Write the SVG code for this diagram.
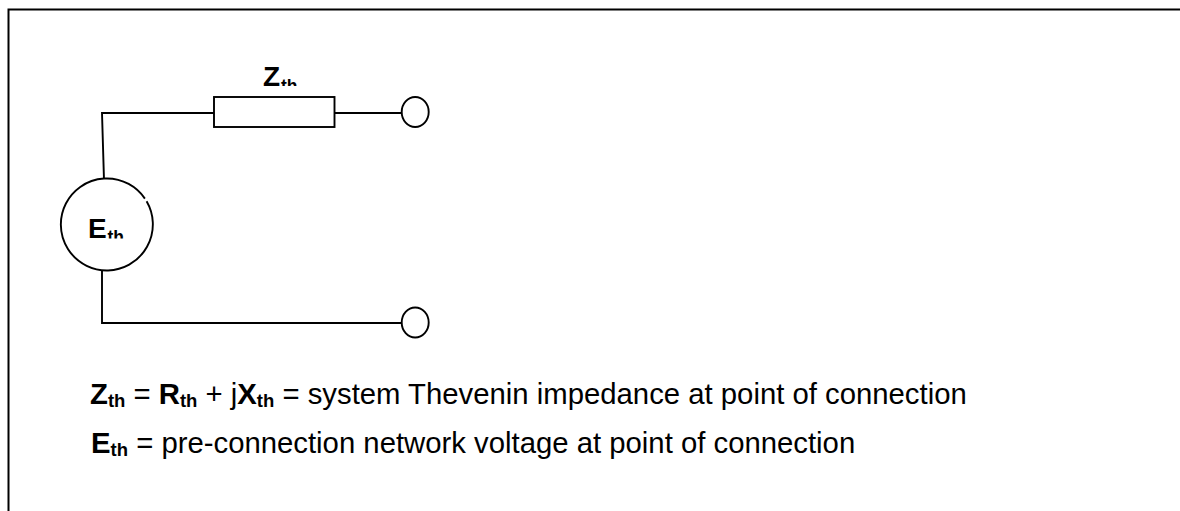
<svg xmlns="http://www.w3.org/2000/svg" width="1180" height="511" viewBox="0 0 1180 511">
<style>
.w{fill:#fff;stroke:#000;stroke-width:1.9}
.c{fill:none;stroke:#000;stroke-width:1.9}
text{font-family:"Liberation Sans",Arial,sans-serif;fill:#000}
.b{font-weight:bold}
.l{font-size:29.300px}
.s{font-weight:bold;font-size:18.500px}
.n{font-weight:bold;font-size:28px}
.t{font-weight:bold;font-size:17.500px}
</style>
<defs>
<clipPath id="cz"><rect x="255" y="60" width="50" height="26"/></clipPath>
<clipPath id="ce"><rect x="80" y="210" width="50" height="28.500"/></clipPath>
</defs>
<rect width="1180" height="511" fill="#fff"/>
<path id="frame" d="M1180 9.500H8.500V511" fill="none" stroke="#000" stroke-width="2"/>
<g id="connectors">
<path class="c" d="M214 113H102L104 180"/>
<path class="c" d="M334 113H402"/>
<path class="c" d="M102 269V323H402"/>
</g>
<g id="Zth">
<rect class="w" x="214" y="97" width="120.500" height="30"/>
<text clip-path="url(#cz)"><tspan class="n" x="263" y="86">Z</tspan><tspan class="t" x="281" y="92">th</tspan></text>
</g>
<g id="Eth">
<path class="w" d="M146.600 201.300A46 46 0 1 1 144.900 198.600"/>
<text clip-path="url(#ce)"><tspan class="n" x="88" y="238">E</tspan><tspan class="t" x="107.500" y="243">th</tspan></text>
</g>
<g id="t1"><ellipse class="w" cx="415.200" cy="112" rx="13.500" ry="15"/></g>
<g id="t2"><ellipse class="w" cx="415.200" cy="322.500" rx="13.500" ry="15"/></g>
<g id="legend">
<text class="l" y="403.500"><tspan class="b" x="90">Z</tspan><tspan class="s" dy="3.500">th</tspan><tspan dy="-3.500"> = </tspan><tspan class="b">R</tspan><tspan class="s" dy="3.500">th</tspan><tspan dy="-3.500"> + j</tspan><tspan class="b">X</tspan><tspan class="s" dy="3.500">th</tspan><tspan dy="-3.500"> = system Thevenin impedance at point of connection</tspan></text>
<text class="l" y="452.500"><tspan class="b" x="91">E</tspan><tspan class="s" dy="3.500">th</tspan><tspan dy="-3.500"> = pre-connection network voltage at point of connection</tspan></text>
</g>
</svg>
